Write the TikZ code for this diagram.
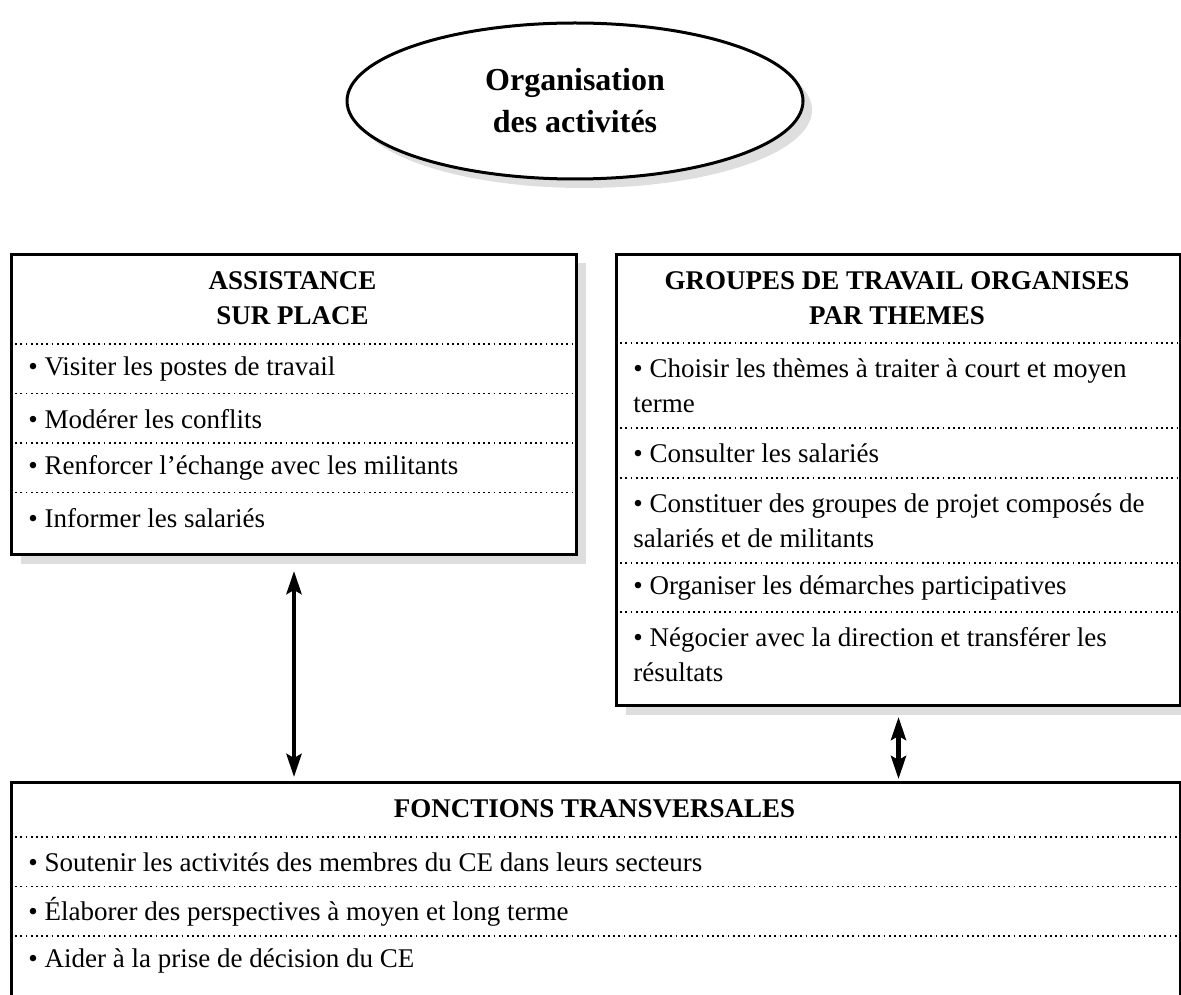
\documentclass[tikz,border=0pt]{standalone}
\usepackage{fontspec}
\setmainfont{Liberation Serif}
\usetikzlibrary{shapes.geometric,shadows,arrows.meta}
\newcommand\bodyfont{\fontsize{13.5pt}{17.5pt}\selectfont\hyphenpenalty=10000 }
\newcommand\itm[1]{\leavevmode\setbox0=\hbox{•\ }\hangindent=\wd0 \hangafter=1 \box0 #1}
\begin{document}
\begin{tikzpicture}[x=0.5pt, y=-0.5pt,
	frame/.style={draw, line width=1.5pt, fill=white, inner sep=0pt, anchor=north west,
		drop shadow={shadow xshift=4.5pt, shadow yshift=-4.5pt, fill=black!13, opacity=1}},
	head/.style={font=\bodyfont\bfseries, align=center, inner sep=0pt},
	row/.style={anchor=north west, inner xsep=9pt, inner ysep=0pt, align=flush left, font=\bodyfont},
	sep/.style={line width=0.9pt, dash pattern=on 0.9pt off 1.7pt},
	tip/.tip={Stealth[length=11.5pt, width=7.5pt, inset=2pt]},
	link/.style={line width=2.25pt, tip-tip}]
	\useasboundingbox (0,0) rectangle (1181,994);
	\clip (0,0) rectangle (1181,994);

	\node[draw, ellipse, line width=1.5pt, fill=white, inner sep=0pt,
		minimum width=228pt, minimum height=78pt,
		font=\fontsize{16pt}{21pt}\selectfont\bfseries, align=center,
		drop shadow={shadow xshift=4.5pt, shadow yshift=-4.5pt, fill=black!13, opacity=1}]
		(orga) at (575,101) {Organisation\\des activités};

	\node[frame, minimum width=282.5pt, minimum height=150pt] (assist) at (10,253) {};
	\node[head] (assisthd) at (292.5,298.5) {ASSISTANCE\\SUR PLACE};
	\foreach \t [count=\i] in {Visiter les postes de travail, Modérer les conflits,
		Renforcer l’échange avec les militants, Informer les salariés} {
		\node[row, text width=264.5pt, minimum height=24.75pt] (a\i) at (10,{344+49.5*(\i-1)}) {\itm{\t}};
		\draw[sep] (a\i.north west) -- (a\i.north east);
	}

	\node[frame, minimum width=282pt, minimum height=225.5pt] (groupes) at (615,253) {};
	\node[head] (groupeshd) at (897,298) {GROUPES DE TRAVAIL ORGANISES\\PAR THEMES};
	\foreach \y/\h/\t [count=\i] in {343/42.5/{Choisir les thèmes à traiter à court et moyen terme},
		428/25/{Consulter les salariés},
		478/42.5/{Constituer des groupes de projet composés de salariés et de militants},
		563/24.5/{Organiser les démarches participatives},
		612/42.5/{Négocier avec la direction et transférer les résultats}} {
		\node[row, text width=264pt, minimum height=\h pt] (g\i) at (615,\y) {\itm{\t}};
		\draw[sep] (g\i.north west) -- (g\i.north east);
	}

	\node[frame, minimum width=584.5pt, minimum height=120pt] (fonct) at (10,781) {};
	\node[head] (foncthd) at (594.5,809) {FONCTIONS TRANSVERSALES};
	\foreach \t [count=\i] in {Soutenir les activités des membres du CE dans leurs secteurs,
		Élaborer des perspectives à moyen et long terme, Aider à la prise de décision du CE} {
		\node[row, text width=566.5pt, minimum height=24.75pt] (f\i) at (10,{837+49.5*(\i-1)}) {\itm{\t}};
		\draw[sep] (f\i.north west) -- (f\i.north east);
	}

	\draw[link, shorten <=7.5pt, shorten >=2pt] (assist.south) -- (assist.south |- fonct.north);
	\draw[link, shorten <=5pt, shorten >=1pt] (groupes.south) -- (groupes.south |- fonct.north);
\end{tikzpicture}
\end{document}
